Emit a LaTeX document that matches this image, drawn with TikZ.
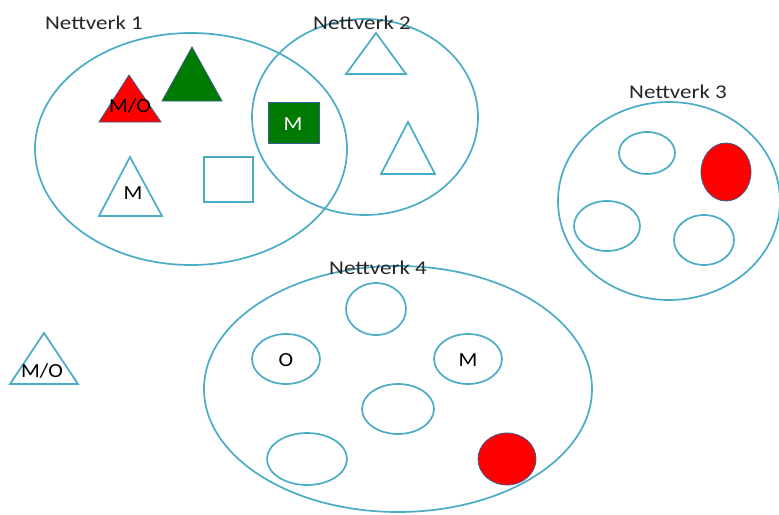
\documentclass[tikz,border=0pt]{standalone}
\usepackage{fontspec}
\setmainfont{Carlito}
\usetikzlibrary{shapes.geometric}
\definecolor{ring}{HTML}{4BACC6}
\definecolor{fillborder}{HTML}{3A5F8F}
\definecolor{darkgreen}{HTML}{007A00}
\tikzset{
  ringshape/.style={ellipse, draw=ring, line width=1.7pt, inner sep=0pt},
  redfill/.style={ellipse, draw=fillborder, line width=0.8pt, fill=red, inner sep=0pt},
  outl/.style={draw=ring, line width=1.7pt, line join=miter},
  filledred/.style={draw=fillborder, line width=0.8pt, fill=red},
  filledgreen/.style={draw=fillborder, line width=0.8pt, fill=darkgreen},
  lbl/.style={font=\fontsize{19.5}{20}\selectfont, text=black!85, inner sep=0pt, xscale=1.18},
  inlbl/.style={font=\fontsize{20}{21}\selectfont, inner sep=0pt, xscale=1.1}
}
\begin{document}
\begin{tikzpicture}[x=1pt,y=-1pt]
\useasboundingbox (0,0) rectangle (779,514);
\fill[white] (0,0) rectangle (779,514);
% Nettverk 1 and 2
\node[ringshape, minimum width=312pt, minimum height=232pt] (n1) at (191,149) {};
\node[ringshape, minimum width=226pt, minimum height=196pt] (n2) at (365,117) {};
\node[lbl] (l1) at (94,23) {Nettverk 1};
\node[lbl] (l2) at (362,23) {Nettverk 2};
% items in Nettverk 1
\path[filledred] (129,75) -- (161,122) -- (99,122) -- cycle;
\node[inlbl] (t1) at (130,106) {M/O};
\path[filledgreen] (192,47) -- (222,101) -- (162,101) -- cycle;
\path[outl] (130,157) -- (162,216) -- (99,216) -- cycle;
\node[inlbl] (t2) at (133,193) {M};
\path[outl] (204,157) rectangle (253,202);
\path[filledgreen] (268,102) rectangle (319,143);
\node[inlbl, text=white] (t3) at (293,124) {M};
% items in Nettverk 2
\path[outl] (376,33) -- (406,74) -- (346,74) -- cycle;
\path[outl] (408,122) -- (435,174) -- (381,174) -- cycle;
% Nettverk 3
\node[ringshape, minimum width=222pt, minimum height=198pt] (n3) at (669,201) {};
\node[lbl] (l3) at (678,92) {Nettverk 3};
\node[ringshape, minimum width=56pt, minimum height=42pt] (c31) at (647,153) {};
\node[redfill, minimum width=50pt, minimum height=58pt] (c32) at (726,172) {};
\node[ringshape, minimum width=66pt, minimum height=50pt] (c33) at (607,226) {};
\node[ringshape, minimum width=60pt, minimum height=50pt] (c34) at (704,240) {};
% Nettverk 4
\node[ringshape, minimum width=388pt, minimum height=246pt] (n4) at (398,389) {};
\node[lbl] (l4) at (378,268) {Nettverk 4};
\node[ringshape, minimum width=60pt, minimum height=52pt] (c41) at (376,309) {};
\node[ringshape, minimum width=68pt, minimum height=50pt] (c42) at (286,359) {};
\node[inlbl] (t4) at (286,360) {O};
\node[ringshape, minimum width=68pt, minimum height=50pt] (c43) at (468,359) {};
\node[inlbl] (t5) at (468,360) {M};
\node[ringshape, minimum width=72pt, minimum height=50pt] (c44) at (398,409) {};
\node[ringshape, minimum width=80pt, minimum height=52pt] (c45) at (307,459) {};
\node[redfill, minimum width=58pt, minimum height=52pt] (c46) at (507,459) {};
% lone triangle
\path[outl] (44,333) -- (78,384) -- (10,384) -- cycle;
\node[inlbl] (t6) at (42,371) {M/O};
\end{tikzpicture}
\end{document}
